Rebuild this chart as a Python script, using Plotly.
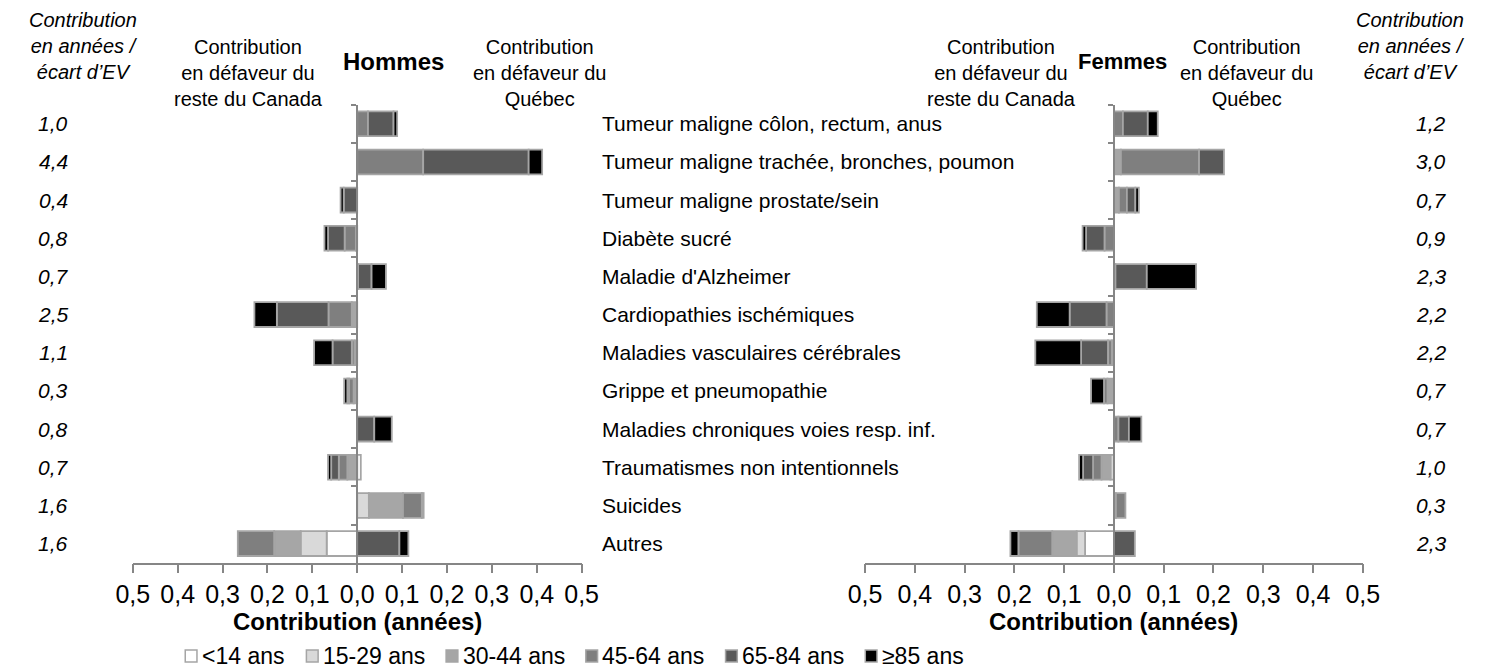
import plotly.graph_objects as go

categories = [
    "Tumeur maligne côlon, rectum, anus",
    "Tumeur maligne trachée, bronches, poumon",
    "Tumeur maligne prostate/sein",
    "Diabète sucré",
    "Maladie d'Alzheimer",
    "Cardiopathies ischémiques",
    "Maladies vasculaires cérébrales",
    "Grippe et pneumopathie",
    "Maladies chroniques voies resp. inf.",
    "Traumatismes non intentionnels",
    "Suicides",
    "Autres",
]

age_groups = ["<14 ans", "15-29 ans", "30-44 ans", "45-64 ans", "65-84 ans", "≥85 ans"]
age_colors = ["#ffffff", "#d9d9d9", "#a6a6a6", "#7f7f7f", "#595959", "#000000"]

# Contributions (years) by age group, in category order
men_lt14 = [0, 0, 0, 0, 0, 0, 0, 0, 0, 0.008, 0, -0.068]
men_15_29 = [0, 0, 0, 0, 0, 0, 0, 0, 0, 0, 0.026, -0.058]
men_30_44 = [0, 0, 0, -0.003, 0, -0.012, -0.006, -0.008, 0, -0.022, 0.076, -0.059]
men_45_64 = [0.024, 0.147, 0, -0.025, 0.002, -0.052, -0.006, -0.010, 0, -0.019, 0.042, -0.081]
men_65_84 = [0.057, 0.235, -0.030, -0.037, 0.030, -0.115, -0.043, -0.004, 0.038, -0.017, 0.004, 0.094]
men_85p = [0.008, 0.030, -0.007, -0.008, 0.032, -0.050, -0.041, -0.007, 0.039, -0.007, 0, 0.020]

women_lt14 = [0, 0, 0, 0, 0, 0, 0, 0, 0, 0, 0, -0.058]
women_15_29 = [0, 0, 0, 0, 0, 0, 0, 0, 0, -0.007, 0, -0.017]
women_30_44 = [0, 0.014, 0.010, 0, 0, 0, -0.004, -0.013, 0, -0.018, 0.004, -0.049]
women_45_64 = [0.018, 0.157, 0.016, -0.019, 0.003, -0.015, -0.008, -0.007, 0.009, -0.017, 0.019, -0.068]
women_65_84 = [0.050, 0.050, 0.017, -0.037, 0.063, -0.074, -0.054, 0, 0.021, -0.020, 0, 0.042]
women_85p = [0.020, 0, 0.007, -0.007, 0.099, -0.066, -0.092, -0.026, 0.025, -0.008, 0, -0.016]

men_ev = ["1,0", "4,4", "0,4", "0,8", "0,7", "2,5", "1,1", "0,3", "0,8", "0,7", "1,6", "1,6"]
women_ev = ["1,2", "3,0", "0,7", "0,9", "2,3", "2,2", "2,2", "0,7", "0,7", "1,0", "0,3", "2,3"]

tick_vals = [-0.5, -0.4, -0.3, -0.2, -0.1, 0.0, 0.1, 0.2, 0.3, 0.4, 0.5]
tick_text = ["0,5", "0,4", "0,3", "0,2", "0,1", "0,0", "0,1", "0,2", "0,3", "0,4", "0,5"]

men = [men_lt14, men_15_29, men_30_44, men_45_64, men_65_84, men_85p]
women = [women_lt14, women_15_29, women_30_44, women_45_64, women_65_84, women_85p]

# The page body has an 8px default margin: the figure is sized so that it
# fills the 1491x670 window, and positions below are given in window pixels.
OFF = 8
W, H = 1491 - OFF, 670 - OFF
FONT = "Liberation Sans, Arial, Helvetica, sans-serif"
GRAY = "#868686"
BORDER = "#a5a5a5"


def px(x):
    return (x - OFF) / W


def py(y):
    return 1 - (y - OFF) / H


fig = go.Figure()

for i, (name, col) in enumerate(zip(age_groups, age_colors)):
    fig.add_trace(go.Bar(
        y=categories, x=[v if v != 0 else None for v in men[i]], orientation="h",
        name=name, marker=dict(color=col, line=dict(color=BORDER, width=1.8)),
        xaxis="x", yaxis="y", showlegend=False,
    ))
for i, (name, col) in enumerate(zip(age_groups, age_colors)):
    fig.add_trace(go.Bar(
        y=categories, x=[v if v != 0 else None for v in women[i]], orientation="h",
        name=name, marker=dict(color=col, line=dict(color=BORDER, width=1.8)),
        xaxis="x2", yaxis="y2", showlegend=False,
    ))

xd1 = [px(118.3), px(577.7)]
xd2 = [px(867.8), px(1377.2)]
yd = [py(562.7), py(104.7)]

xaxis_common = dict(
    range=[-0.5, 0.5], tickvals=tick_vals, ticktext=tick_text,
    showline=True, linecolor=GRAY, linewidth=1.5, ticks="outside", ticklen=9,
    tickcolor=GRAY, tickwidth=1.5, showgrid=False, zeroline=False,
    tickfont=dict(family=FONT, size=25, color="#000000"),
)
yaxis_common = dict(
    autorange="reversed", showline=True, linecolor=GRAY, linewidth=1.5,
    ticks="outside", ticklen=5, tickcolor=GRAY, tickwidth=1.5,
    tickson="boundaries", showticklabels=False, showgrid=False, zeroline=False,
    domain=yd,
)

fig.update_layout(
    width=W, height=H, margin=dict(l=0, r=0, t=0, b=0),
    paper_bgcolor="white", plot_bgcolor="rgba(0,0,0,0)",
    barmode="relative", bargap=0.35, showlegend=False,
    font=dict(family=FONT, size=20, color="#000000"),
    xaxis=dict(domain=xd1, anchor="y", **xaxis_common),
    xaxis2=dict(domain=xd2, anchor="y2", **xaxis_common),
    yaxis=dict(anchor="free", position=(xd1[0] + xd1[1]) / 2, **yaxis_common),
    yaxis2=dict(anchor="free", position=(xd2[0] + xd2[1]) / 2, **yaxis_common),
)

ann = []
for c in categories:
    ann.append(dict(x=px(597), y=c, xref="paper", yref="y", text=c, showarrow=False,
                    xanchor="left", font=dict(size=21)))
for c, t in zip(categories, men_ev):
    ann.append(dict(x=px(37), y=c, xref="paper", yref="y", text="<i>" + t + "</i>",
                    showarrow=False, xanchor="center", font=dict(size=21)))
for c, t in zip(categories, women_ev):
    ann.append(dict(x=px(1447), y=c, xref="paper", yref="y2", text="<i>" + t + "</i>",
                    showarrow=False, xanchor="center", font=dict(size=21)))

hdr = [
    (68, 46, "<i>Contribution<br>en années /<br>écart d’EV</i>", 20),
    (1426, 46, "<i>Contribution<br>en années /<br>écart d’EV</i>", 20),
    (237, 73, "Contribution<br>en défaveur du<br>reste du Canada", 20),
    (535, 73, "Contribution<br>en défaveur du<br>Québec", 20),
    (1007, 73, "Contribution<br>en défaveur du<br>reste du Canada", 20),
    (1258, 73, "Contribution<br>en défaveur du<br>Québec", 20),
    (385, 62, "<b>Hommes</b>", 24),
    (1131, 62, "<b>Femmes</b>", 22),
    ((118.3 + 577.7) / 2, 621, "<b>Contribution (années)</b>", 24),
    ((867.8 + 1377.2) / 2, 621, "<b>Contribution (années)</b>", 24),
]
for x, y, t, s in hdr:
    ann.append(dict(x=px(x), y=py(y), xref="paper", yref="paper", text=t, showarrow=False,
                    xanchor="center", yanchor="middle", align="center", font=dict(size=s)))

# Legend: small bordered squares followed by their labels
LEG_FS = 23
LEG_Y = 656
legend_x = [172, 296, 439, 582, 725, 868]
shapes = []
for x0, name, col in zip(legend_x, age_groups, age_colors):
    shapes.append(dict(type="rect", xref="paper", yref="paper",
                       x0=px(x0), x1=px(x0 + 12), y0=py(LEG_Y + 6), y1=py(LEG_Y - 6),
                       fillcolor=col, line=dict(color=BORDER, width=1.5)))
    ann.append(dict(x=px(x0 + 15), y=py(LEG_Y), xref="paper", yref="paper", text=name,
                    showarrow=False, xanchor="left", yanchor="middle",
                    font=dict(size=LEG_FS)))

fig.update_layout(annotations=ann, shapes=shapes)
fig.write_html("out.html")
